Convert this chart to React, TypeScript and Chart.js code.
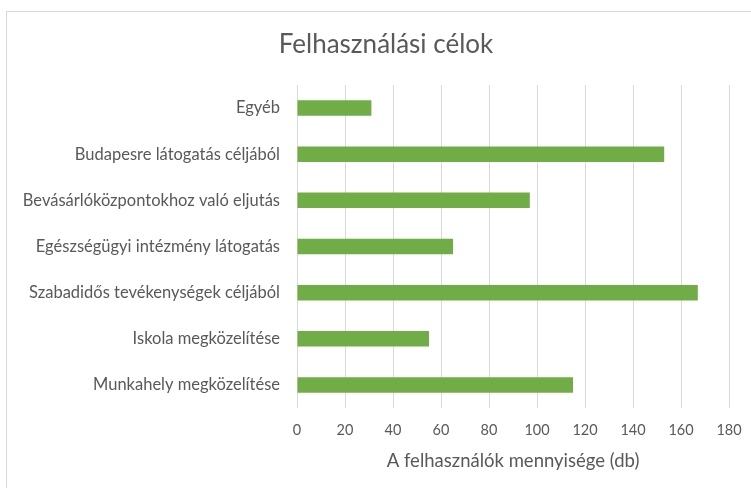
import React, { useEffect, useRef } from "react";
import { Chart, registerables } from "chart.js";

Chart.register(...registerables);

const chartTitle = "Felhasználási célok";
const axisTitle = "A felhasználók mennyisége (db)";
const categories = [
  "Egyéb",
  "Budapesre látogatás céljából",
  "Bevásárlóközpontokhoz való eljutás",
  "Egészségügyi intézmény látogatás",
  "Szabadidős tevékenységek céljából",
  "Iskola megközelítése",
  "Munkahely megközelítése",
];
const values = [31, 153, 97, 65, 167, 55, 115];
const xMin = 0;
const xMax = 180;
const xStep = 20;

const TEXT = "#595959";
const GRID = "#d9d9d9";
const BAR = "#70AD47";
const FONT = "Lato, 'Open Sans', sans-serif";

export default function App() {
  const ref = useRef<HTMLCanvasElement>(null);

  useEffect(() => {
    if (!ref.current) return;
    const chart = new Chart(ref.current, {
      type: "bar",
      data: {
        labels: categories,
        datasets: [
          {
            data: values,
            backgroundColor: BAR,
            borderWidth: 0,
            barPercentage: 0.336,
            categoryPercentage: 1,
          },
        ],
      },
      options: {
        indexAxis: "y",
        animation: false,
        responsive: false,
        maintainAspectRatio: false,
        layout: { padding: { left: 21, right: 0, top: 0, bottom: 0 } },
        plugins: {
          legend: { display: false },
          tooltip: { enabled: false },
          title: {
            display: true,
            text: chartTitle,
            color: TEXT,
            font: { family: FONT, size: 26, weight: "400" as any },
            padding: { top: 29, bottom: 24.8 },
          },
        },
        scales: {
          x: {
            type: "linear",
            min: xMin,
            max: xMax,
            ticks: {
              stepSize: xStep,
              color: TEXT,
              font: { family: FONT, size: 14.5 },
              padding: 14,
            },
            grid: { color: GRID, drawTicks: false, lineWidth: 1 },
            border: { display: false },
            title: {
              display: true,
              text: axisTitle,
              color: TEXT,
              font: { family: FONT, size: 18.5 },
              padding: { top: 0, bottom: 16 },
            },
            afterFit: (s: any) => {
              s.height = 80;
              s.paddingRight = 22;
            },
          },
          y: {
            type: "category",
            grid: { display: false, drawTicks: false },
            border: { display: false },
            ticks: {
              color: TEXT,
              font: { family: FONT, size: 16.5 },
              padding: 17,
            },
            afterFit: (s: any) => {
              s.width = 276;
            },
          },
        },
      },
    });
    return () => chart.destroy();
  }, []);

  return (
    <div
      style={{
        position: "absolute",
        left: 0,
        top: 0,
        width: 751,
        height: 488,
        overflow: "hidden",
        background: "#ffffff",
      }}
    >
      <div
        style={{
          position: "absolute",
          left: 6,
          top: 11,
          width: 770,
          height: 500,
          border: "1px solid #d9d9d9",
          boxSizing: "border-box",
        }}
      />
      <canvas
        ref={ref}
        width={751}
        height={488}
        style={{ position: "absolute", left: 0, top: 0, width: 751, height: 488, display: "block" }}
      />
    </div>
  );
}
